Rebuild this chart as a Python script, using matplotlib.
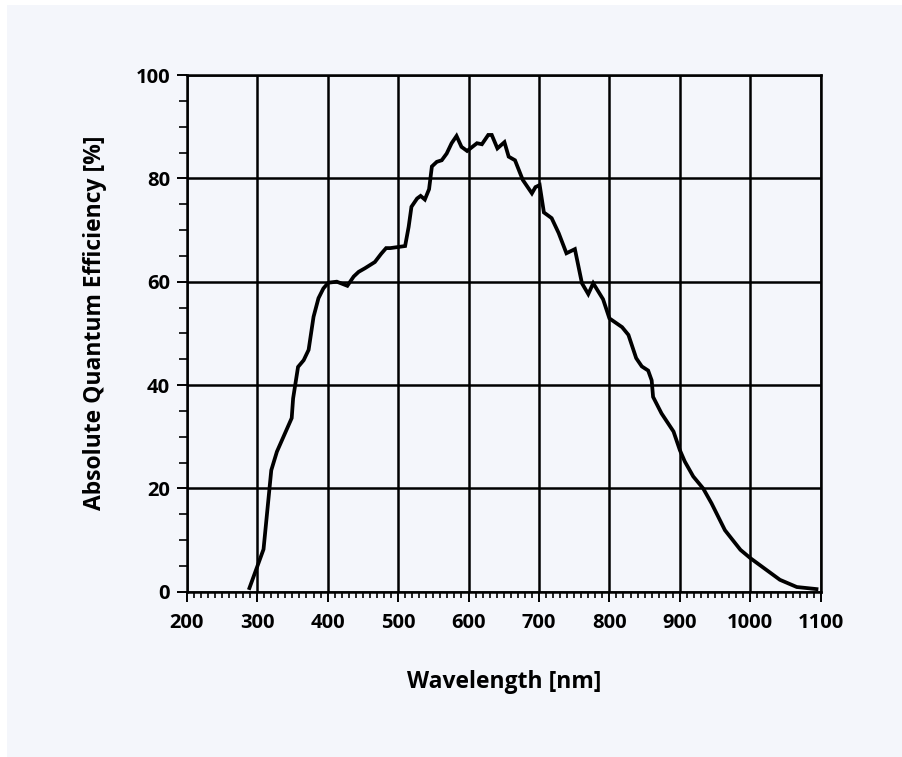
import matplotlib.pyplot as plt
import matplotlib as mpl
from matplotlib.ticker import MultipleLocator
from matplotlib.patches import Rectangle

# wavelength [nm] and absolute quantum efficiency [%]
wavelength = [289, 309, 320, 328, 349, 351, 358, 366, 373, 380, 387, 394,
              401, 413, 428, 437, 444, 453, 467, 476, 483, 489, 510, 515,
              519, 527, 532, 538, 544, 548, 555, 562, 569, 576, 583, 590,
              598, 612, 619, 628, 633, 641, 651, 657, 666, 677, 690, 695,
              701, 707, 718, 728, 739, 751, 761, 770, 777, 791, 800, 818,
              827, 838, 846, 855, 860, 862, 874, 891, 900, 907, 919, 933,
              945, 964, 986, 1000, 1023, 1042, 1066, 1094]
efficiency = [0.7, 8.2, 23.5, 27.1, 33.6, 37.4, 43.5, 44.8, 46.8, 53.2, 56.8,
              58.7, 59.8, 60.0, 59.2, 61.0, 61.9, 62.6, 63.8, 65.4, 66.5,
              66.5, 66.9, 70.6, 74.5, 76.1, 76.6, 75.9, 77.9, 82.3, 83.2,
              83.5, 84.8, 86.8, 88.2, 86.1, 85.3, 86.8, 86.6, 88.4, 88.4,
              85.8, 87.0, 84.2, 83.5, 79.7, 77.1, 78.3, 78.7, 73.4, 72.3,
              69.4, 65.5, 66.3, 59.7, 57.6, 59.7, 56.6, 52.9, 51.2, 49.7,
              45.2, 43.6, 42.8, 40.9, 37.7, 34.5, 31.0, 27.4, 25.2, 22.3,
              20.0, 17.1, 11.9, 8.1, 6.5, 4.2, 2.3, 0.9, 0.5]

x_ticks = [200, 300, 400, 500, 600, 700, 800, 900, 1000, 1100]
y_ticks = [0, 20, 40, 60, 80, 100]

mpl.rcParams['font.family'] = ['Open Sans', 'DejaVu Sans']
mpl.rcParams['font.weight'] = 'bold'

fig = plt.figure(figsize=(9.03, 7.57), dpi=100, facecolor='white')
# light panel behind the chart
panel = Rectangle((7 / 903, 0), 1, 1 - 5 / 757, transform=fig.transFigure,
                  facecolor='#f4f6fb', edgecolor='none', zorder=-10)
fig.add_artist(panel)

ax = fig.add_axes([0.2068, 0.2184, 0.7021, 0.6825])
ax.set_facecolor('#f4f6fb')
ax.set_zorder(1)

ax.plot(wavelength, efficiency, color='black', lw=2.7, zorder=3,
        solid_joinstyle='miter')

ax.set_xlim(200, 1100)
ax.set_ylim(0, 100)
ax.set_xticks(x_ticks)
ax.set_yticks(y_ticks)
ax.xaxis.set_minor_locator(MultipleLocator(10))
ax.yaxis.set_minor_locator(MultipleLocator(5))

ax.grid(True, which='major', color='black', lw=1.8)
ax.set_axisbelow(False)
for s in ax.spines.values():
    s.set_linewidth(1.8)
    s.set_color('black')

ax.tick_params(which='major', direction='out', length=7, width=1.4,
               labelsize=14.5, pad=5)
ax.tick_params(axis='x', which='major', pad=8)
ax.tick_params(which='minor', direction='out', length=4.5, width=1.2)
ax.tick_params(axis='y', which='minor', length=5.5)
for lab in ax.get_xticklabels() + ax.get_yticklabels():
    lab.set_fontweight('bold')

ax.set_xlabel('Wavelength [nm]', fontsize=16.5, fontweight='bold')
ax.set_ylabel('Absolute Quantum Efficiency [%]', fontsize=16.5,
              fontweight='bold')
ax.xaxis.set_label_coords(0.5, -0.152)
ax.yaxis.set_label_coords(-0.125, 0.52)

fig.savefig('out.png', dpi=100, facecolor=fig.get_facecolor())
